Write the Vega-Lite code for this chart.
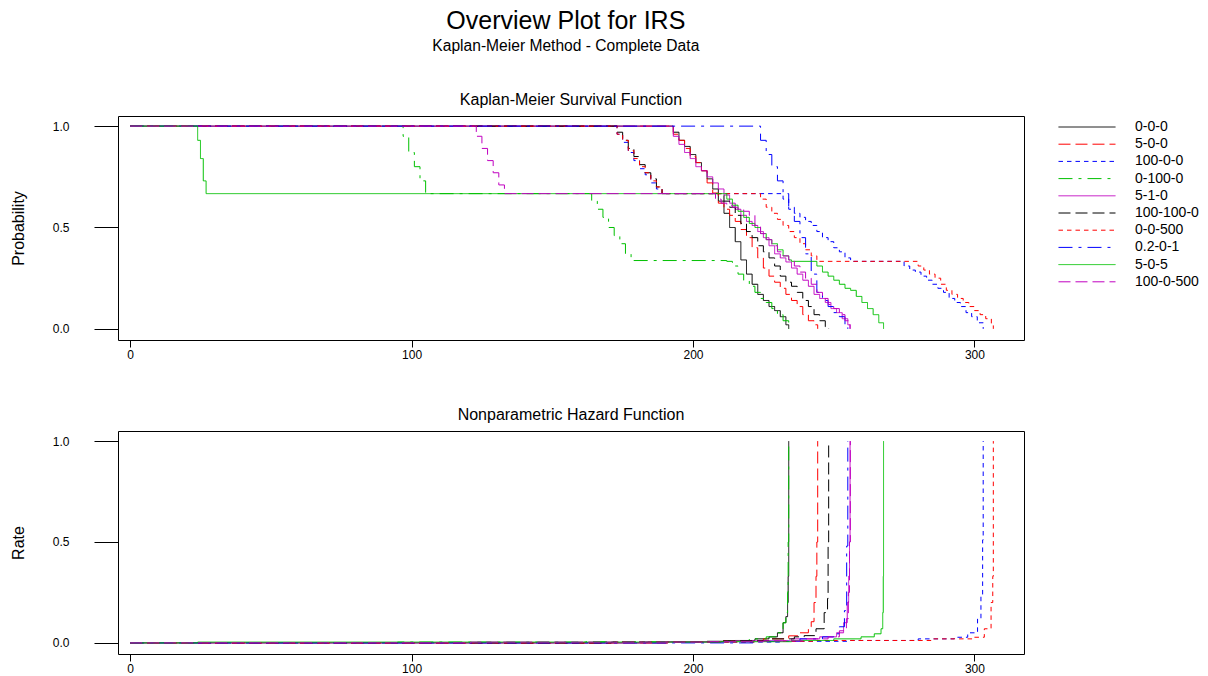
{
  "$schema": "https://vega.github.io/schema/vega-lite/v6.json",
  "background": "white",
  "padding": {"left": 9, "top": 8, "right": 0, "bottom": 0},
  "title": {
    "text": "Overview Plot for IRS",
    "subtitle": "Kaplan-Meier Method - Complete Data",
    "anchor": "start",
    "align": "center",
    "dx": 556,
    "fontSize": 25,
    "fontWeight": "normal",
    "subtitleFontSize": 15.6,
    "subtitlePadding": 5,
    "offset": 37,
    "color": "#000000",
    "subtitleColor": "#000000"
  },
  "datasets": {
    "km": [
      {"s":"0-0-0","t":0,"v":1},{"s":"0-0-0","t":191,"v":1},{"s":"0-0-0","t":193,"v":0.97},{"s":"0-0-0","t":195,"v":0.93},{"s":"0-0-0","t":197,"v":0.9},{"s":"0-0-0","t":199,"v":0.86},{"s":"0-0-0","t":201,"v":0.82},{"s":"0-0-0","t":203,"v":0.78},{"s":"0-0-0","t":205,"v":0.74},{"s":"0-0-0","t":207,"v":0.69},{"s":"0-0-0","t":209,"v":0.63},{"s":"0-0-0","t":211,"v":0.57},{"s":"0-0-0","t":213,"v":0.5},{"s":"0-0-0","t":215,"v":0.43},{"s":"0-0-0","t":217,"v":0.34},{"s":"0-0-0","t":219,"v":0.27},{"s":"0-0-0","t":221,"v":0.22},{"s":"0-0-0","t":223,"v":0.17},{"s":"0-0-0","t":225,"v":0.14},{"s":"0-0-0","t":227,"v":0.11},{"s":"0-0-0","t":229,"v":0.09},{"s":"0-0-0","t":231,"v":0.06},{"s":"0-0-0","t":233,"v":0.02},{"s":"0-0-0","t":234,"v":0},
      {"s":"5-0-0","t":0,"v":1},{"s":"5-0-0","t":191,"v":1},{"s":"5-0-0","t":193,"v":0.96},{"s":"5-0-0","t":195,"v":0.93},{"s":"5-0-0","t":197,"v":0.89},{"s":"5-0-0","t":199,"v":0.85},{"s":"5-0-0","t":201,"v":0.82},{"s":"5-0-0","t":203,"v":0.78},{"s":"5-0-0","t":205,"v":0.72},{"s":"5-0-0","t":207,"v":0.67},{"s":"5-0-0","t":209,"v":0.62},{"s":"5-0-0","t":211,"v":0.59},{"s":"5-0-0","t":213,"v":0.56},{"s":"5-0-0","t":215,"v":0.53},{"s":"5-0-0","t":217,"v":0.49},{"s":"5-0-0","t":219,"v":0.45},{"s":"5-0-0","t":221,"v":0.4},{"s":"5-0-0","t":223,"v":0.35},{"s":"5-0-0","t":225,"v":0.3},{"s":"5-0-0","t":227,"v":0.26},{"s":"5-0-0","t":229,"v":0.23},{"s":"5-0-0","t":231,"v":0.2},{"s":"5-0-0","t":233,"v":0.17},{"s":"5-0-0","t":235,"v":0.14},{"s":"5-0-0","t":237,"v":0.11},{"s":"5-0-0","t":239,"v":0.07},{"s":"5-0-0","t":241,"v":0.04},{"s":"5-0-0","t":243,"v":0.02},{"s":"5-0-0","t":244.3,"v":0},
      {"s":"100-0-0","t":0,"v":1},{"s":"100-0-0","t":171,"v":1},{"s":"100-0-0","t":173,"v":0.96},{"s":"100-0-0","t":175,"v":0.92},{"s":"100-0-0","t":177,"v":0.87},{"s":"100-0-0","t":179,"v":0.83},{"s":"100-0-0","t":181,"v":0.79},{"s":"100-0-0","t":183,"v":0.76},{"s":"100-0-0","t":185,"v":0.72},{"s":"100-0-0","t":187,"v":0.69},{"s":"100-0-0","t":189,"v":0.667},{"s":"100-0-0","t":232,"v":0.64},{"s":"100-0-0","t":234,"v":0.59},{"s":"100-0-0","t":236,"v":0.57},{"s":"100-0-0","t":238,"v":0.55},{"s":"100-0-0","t":240,"v":0.53},{"s":"100-0-0","t":242,"v":0.51},{"s":"100-0-0","t":244,"v":0.48},{"s":"100-0-0","t":246,"v":0.45},{"s":"100-0-0","t":248,"v":0.43},{"s":"100-0-0","t":250,"v":0.4},{"s":"100-0-0","t":252,"v":0.38},{"s":"100-0-0","t":254,"v":0.35},{"s":"100-0-0","t":256,"v":0.333},{"s":"100-0-0","t":275,"v":0.31},{"s":"100-0-0","t":277,"v":0.29},{"s":"100-0-0","t":279,"v":0.28},{"s":"100-0-0","t":281,"v":0.26},{"s":"100-0-0","t":283,"v":0.24},{"s":"100-0-0","t":285,"v":0.22},{"s":"100-0-0","t":287,"v":0.2},{"s":"100-0-0","t":289,"v":0.18},{"s":"100-0-0","t":291,"v":0.15},{"s":"100-0-0","t":293,"v":0.13},{"s":"100-0-0","t":295,"v":0.11},{"s":"100-0-0","t":297,"v":0.08},{"s":"100-0-0","t":299,"v":0.06},{"s":"100-0-0","t":301,"v":0.03},{"s":"100-0-0","t":303.1,"v":0},
      {"s":"0-100-0","t":0,"v":1},{"s":"0-100-0","t":95,"v":1},{"s":"0-100-0","t":97,"v":0.95},{"s":"0-100-0","t":99,"v":0.87},{"s":"0-100-0","t":101,"v":0.8},{"s":"0-100-0","t":103,"v":0.73},{"s":"0-100-0","t":105,"v":0.667},{"s":"0-100-0","t":162,"v":0.667},{"s":"0-100-0","t":164,"v":0.63},{"s":"0-100-0","t":166,"v":0.59},{"s":"0-100-0","t":168,"v":0.55},{"s":"0-100-0","t":170,"v":0.5},{"s":"0-100-0","t":172,"v":0.46},{"s":"0-100-0","t":174,"v":0.42},{"s":"0-100-0","t":176,"v":0.37},{"s":"0-100-0","t":178,"v":0.337},{"s":"0-100-0","t":212,"v":0.333},{"s":"0-100-0","t":214,"v":0.31},{"s":"0-100-0","t":216,"v":0.27},{"s":"0-100-0","t":218,"v":0.24},{"s":"0-100-0","t":220,"v":0.21},{"s":"0-100-0","t":222,"v":0.18},{"s":"0-100-0","t":224,"v":0.15},{"s":"0-100-0","t":226,"v":0.13},{"s":"0-100-0","t":228,"v":0.1},{"s":"0-100-0","t":230,"v":0.07},{"s":"0-100-0","t":232,"v":0.04},{"s":"0-100-0","t":234,"v":0},
      {"s":"5-1-0","t":0,"v":1},{"s":"5-1-0","t":191,"v":1},{"s":"5-1-0","t":193,"v":0.95},{"s":"5-1-0","t":195,"v":0.91},{"s":"5-1-0","t":197,"v":0.87},{"s":"5-1-0","t":199,"v":0.84},{"s":"5-1-0","t":201,"v":0.8},{"s":"5-1-0","t":203,"v":0.78},{"s":"5-1-0","t":205,"v":0.75},{"s":"5-1-0","t":207,"v":0.72},{"s":"5-1-0","t":209,"v":0.69},{"s":"5-1-0","t":211,"v":0.66},{"s":"5-1-0","t":213,"v":0.62},{"s":"5-1-0","t":215,"v":0.59},{"s":"5-1-0","t":217,"v":0.56},{"s":"5-1-0","t":219,"v":0.53},{"s":"5-1-0","t":221,"v":0.51},{"s":"5-1-0","t":223,"v":0.48},{"s":"5-1-0","t":225,"v":0.45},{"s":"5-1-0","t":227,"v":0.41},{"s":"5-1-0","t":229,"v":0.37},{"s":"5-1-0","t":231,"v":0.35},{"s":"5-1-0","t":233,"v":0.33},{"s":"5-1-0","t":235,"v":0.3},{"s":"5-1-0","t":237,"v":0.27},{"s":"5-1-0","t":239,"v":0.24},{"s":"5-1-0","t":241,"v":0.21},{"s":"5-1-0","t":243,"v":0.17},{"s":"5-1-0","t":245,"v":0.15},{"s":"5-1-0","t":247,"v":0.13},{"s":"5-1-0","t":249,"v":0.1},{"s":"5-1-0","t":251,"v":0.08},{"s":"5-1-0","t":253,"v":0.05},{"s":"5-1-0","t":255,"v":0.02},{"s":"5-1-0","t":255.8,"v":0},
      {"s":"100-100-0","t":0,"v":1},{"s":"100-100-0","t":171,"v":1},{"s":"100-100-0","t":173,"v":0.97},{"s":"100-100-0","t":175,"v":0.93},{"s":"100-100-0","t":177,"v":0.89},{"s":"100-100-0","t":179,"v":0.85},{"s":"100-100-0","t":181,"v":0.81},{"s":"100-100-0","t":183,"v":0.77},{"s":"100-100-0","t":185,"v":0.74},{"s":"100-100-0","t":187,"v":0.7},{"s":"100-100-0","t":189,"v":0.667},{"s":"100-100-0","t":209,"v":0.667},{"s":"100-100-0","t":211,"v":0.63},{"s":"100-100-0","t":213,"v":0.6},{"s":"100-100-0","t":215,"v":0.56},{"s":"100-100-0","t":217,"v":0.52},{"s":"100-100-0","t":219,"v":0.48},{"s":"100-100-0","t":221,"v":0.45},{"s":"100-100-0","t":223,"v":0.41},{"s":"100-100-0","t":225,"v":0.38},{"s":"100-100-0","t":227,"v":0.35},{"s":"100-100-0","t":229,"v":0.31},{"s":"100-100-0","t":231,"v":0.26},{"s":"100-100-0","t":233,"v":0.23},{"s":"100-100-0","t":235,"v":0.21},{"s":"100-100-0","t":237,"v":0.18},{"s":"100-100-0","t":239,"v":0.14},{"s":"100-100-0","t":241,"v":0.11},{"s":"100-100-0","t":243,"v":0.07},{"s":"100-100-0","t":245,"v":0.04},{"s":"100-100-0","t":247,"v":0.01},{"s":"100-100-0","t":248.2,"v":0},
      {"s":"0-0-500","t":0,"v":1},{"s":"0-0-500","t":171,"v":1},{"s":"0-0-500","t":173,"v":0.96},{"s":"0-0-500","t":175,"v":0.93},{"s":"0-0-500","t":177,"v":0.88},{"s":"0-0-500","t":179,"v":0.84},{"s":"0-0-500","t":181,"v":0.8},{"s":"0-0-500","t":183,"v":0.77},{"s":"0-0-500","t":185,"v":0.73},{"s":"0-0-500","t":187,"v":0.7},{"s":"0-0-500","t":189,"v":0.667},{"s":"0-0-500","t":222,"v":0.667},{"s":"0-0-500","t":224,"v":0.64},{"s":"0-0-500","t":226,"v":0.6},{"s":"0-0-500","t":228,"v":0.57},{"s":"0-0-500","t":230,"v":0.54},{"s":"0-0-500","t":232,"v":0.51},{"s":"0-0-500","t":234,"v":0.48},{"s":"0-0-500","t":236,"v":0.45},{"s":"0-0-500","t":238,"v":0.42},{"s":"0-0-500","t":240,"v":0.39},{"s":"0-0-500","t":242,"v":0.36},{"s":"0-0-500","t":244,"v":0.333},{"s":"0-0-500","t":278,"v":0.333},{"s":"0-0-500","t":280,"v":0.31},{"s":"0-0-500","t":282,"v":0.29},{"s":"0-0-500","t":284,"v":0.27},{"s":"0-0-500","t":286,"v":0.25},{"s":"0-0-500","t":288,"v":0.22},{"s":"0-0-500","t":290,"v":0.19},{"s":"0-0-500","t":292,"v":0.17},{"s":"0-0-500","t":294,"v":0.15},{"s":"0-0-500","t":296,"v":0.13},{"s":"0-0-500","t":298,"v":0.11},{"s":"0-0-500","t":300,"v":0.09},{"s":"0-0-500","t":302,"v":0.07},{"s":"0-0-500","t":304,"v":0.05},{"s":"0-0-500","t":306,"v":0.02},{"s":"0-0-500","t":306.7,"v":0},
      {"s":"0.2-0-1","t":0,"v":1},{"s":"0.2-0-1","t":222,"v":1},{"s":"0.2-0-1","t":224,"v":0.93},{"s":"0.2-0-1","t":226,"v":0.86},{"s":"0.2-0-1","t":228,"v":0.8},{"s":"0.2-0-1","t":230,"v":0.73},{"s":"0.2-0-1","t":232,"v":0.667},{"s":"0.2-0-1","t":234,"v":0.6},{"s":"0.2-0-1","t":236,"v":0.53},{"s":"0.2-0-1","t":238,"v":0.45},{"s":"0.2-0-1","t":240,"v":0.37},{"s":"0.2-0-1","t":242,"v":0.27},{"s":"0.2-0-1","t":244,"v":0.18},{"s":"0.2-0-1","t":246,"v":0.14},{"s":"0.2-0-1","t":248,"v":0.11},{"s":"0.2-0-1","t":250,"v":0.08},{"s":"0.2-0-1","t":252,"v":0.06},{"s":"0.2-0-1","t":254,"v":0.02},{"s":"0.2-0-1","t":255,"v":0},
      {"s":"5-0-5","t":0,"v":1},{"s":"5-0-5","t":24,"v":0.93},{"s":"5-0-5","t":25,"v":0.84},{"s":"5-0-5","t":26,"v":0.73},{"s":"5-0-5","t":27,"v":0.667},{"s":"5-0-5","t":210,"v":0.667},{"s":"5-0-5","t":212,"v":0.64},{"s":"5-0-5","t":214,"v":0.61},{"s":"5-0-5","t":216,"v":0.58},{"s":"5-0-5","t":218,"v":0.55},{"s":"5-0-5","t":220,"v":0.52},{"s":"5-0-5","t":222,"v":0.5},{"s":"5-0-5","t":224,"v":0.47},{"s":"5-0-5","t":226,"v":0.44},{"s":"5-0-5","t":228,"v":0.42},{"s":"5-0-5","t":230,"v":0.39},{"s":"5-0-5","t":232,"v":0.36},{"s":"5-0-5","t":234,"v":0.34},{"s":"5-0-5","t":235,"v":0.333},{"s":"5-0-5","t":242,"v":0.333},{"s":"5-0-5","t":244,"v":0.31},{"s":"5-0-5","t":246,"v":0.28},{"s":"5-0-5","t":248,"v":0.26},{"s":"5-0-5","t":250,"v":0.24},{"s":"5-0-5","t":252,"v":0.22},{"s":"5-0-5","t":254,"v":0.2},{"s":"5-0-5","t":256,"v":0.19},{"s":"5-0-5","t":258,"v":0.16},{"s":"5-0-5","t":260,"v":0.13},{"s":"5-0-5","t":262,"v":0.1},{"s":"5-0-5","t":264,"v":0.07},{"s":"5-0-5","t":266,"v":0.03},{"s":"5-0-5","t":267.7,"v":0},
      {"s":"100-0-500","t":0,"v":1},{"s":"100-0-500","t":121,"v":1},{"s":"100-0-500","t":123,"v":0.95},{"s":"100-0-500","t":125,"v":0.89},{"s":"100-0-500","t":127,"v":0.83},{"s":"100-0-500","t":129,"v":0.77},{"s":"100-0-500","t":131,"v":0.71},{"s":"100-0-500","t":133,"v":0.667},{"s":"100-0-500","t":206,"v":0.667},{"s":"100-0-500","t":208,"v":0.64},{"s":"100-0-500","t":210,"v":0.62},{"s":"100-0-500","t":212,"v":0.61},{"s":"100-0-500","t":214,"v":0.6},{"s":"100-0-500","t":216,"v":0.59},{"s":"100-0-500","t":218,"v":0.58},{"s":"100-0-500","t":220,"v":0.56},{"s":"100-0-500","t":222,"v":0.51},{"s":"100-0-500","t":224,"v":0.47},{"s":"100-0-500","t":226,"v":0.44},{"s":"100-0-500","t":228,"v":0.41},{"s":"100-0-500","t":230,"v":0.38},{"s":"100-0-500","t":232,"v":0.36},{"s":"100-0-500","t":234,"v":0.34},{"s":"100-0-500","t":236,"v":0.31},{"s":"100-0-500","t":238,"v":0.28},{"s":"100-0-500","t":240,"v":0.25},{"s":"100-0-500","t":242,"v":0.22},{"s":"100-0-500","t":244,"v":0.18},{"s":"100-0-500","t":246,"v":0.15},{"s":"100-0-500","t":248,"v":0.12},{"s":"100-0-500","t":250,"v":0.1},{"s":"100-0-500","t":252,"v":0.07},{"s":"100-0-500","t":254,"v":0.04},{"s":"100-0-500","t":255.8,"v":0}
    ],
    "hz": [
      {"s":"0-0-0","t":0,"v":0},{"s":"0-0-0","t":191,"v":0.005},{"s":"0-0-0","t":205,"v":0.008},{"s":"0-0-0","t":215,"v":0.012},{"s":"0-0-0","t":222,"v":0.02},{"s":"0-0-0","t":227,"v":0.03},{"s":"0-0-0","t":230,"v":0.05},{"s":"0-0-0","t":232,"v":0.1},{"s":"0-0-0","t":233,"v":0.13},{"s":"0-0-0","t":233.6,"v":0.2},{"s":"0-0-0","t":233.8,"v":0.33},{"s":"0-0-0","t":234,"v":1},
      {"s":"5-0-0","t":0,"v":0},{"s":"5-0-0","t":191,"v":0.004},{"s":"5-0-0","t":210,"v":0.01},{"s":"5-0-0","t":225,"v":0.02},{"s":"5-0-0","t":234,"v":0.035},{"s":"5-0-0","t":238,"v":0.05},{"s":"5-0-0","t":241,"v":0.08},{"s":"5-0-0","t":242,"v":0.105},{"s":"5-0-0","t":243,"v":0.2},{"s":"5-0-0","t":243.7,"v":0.33},{"s":"5-0-0","t":244,"v":0.5},{"s":"5-0-0","t":244.3,"v":1},
      {"s":"100-0-0","t":0,"v":0},{"s":"100-0-0","t":171,"v":0.004},{"s":"100-0-0","t":232,"v":0.008},{"s":"100-0-0","t":256,"v":0.012},{"s":"100-0-0","t":280,"v":0.02},{"s":"100-0-0","t":292.8,"v":0.028},{"s":"100-0-0","t":297.6,"v":0.05},{"s":"100-0-0","t":301.1,"v":0.12},{"s":"100-0-0","t":302.3,"v":0.23},{"s":"100-0-0","t":302.9,"v":0.51},{"s":"100-0-0","t":303.1,"v":1},
      {"s":"0-100-0","t":0,"v":0},{"s":"0-100-0","t":95,"v":0.004},{"s":"0-100-0","t":162,"v":0.006},{"s":"0-100-0","t":212,"v":0.01},{"s":"0-100-0","t":220,"v":0.02},{"s":"0-100-0","t":226,"v":0.03},{"s":"0-100-0","t":230,"v":0.05},{"s":"0-100-0","t":232,"v":0.1},{"s":"0-100-0","t":233,"v":0.15},{"s":"0-100-0","t":233.6,"v":0.25},{"s":"0-100-0","t":233.8,"v":0.5},{"s":"0-100-0","t":234,"v":1},
      {"s":"5-1-0","t":0,"v":0},{"s":"5-1-0","t":191,"v":0.005},{"s":"5-1-0","t":215,"v":0.01},{"s":"5-1-0","t":235,"v":0.02},{"s":"5-1-0","t":245,"v":0.03},{"s":"5-1-0","t":251,"v":0.05},{"s":"5-1-0","t":253.5,"v":0.1},{"s":"5-1-0","t":254.8,"v":0.2},{"s":"5-1-0","t":255.3,"v":0.33},{"s":"5-1-0","t":255.6,"v":0.5},{"s":"5-1-0","t":255.8,"v":1},
      {"s":"100-100-0","t":0,"v":0},{"s":"100-100-0","t":171,"v":0.004},{"s":"100-100-0","t":209,"v":0.01},{"s":"100-100-0","t":228,"v":0.02},{"s":"100-100-0","t":236,"v":0.03},{"s":"100-100-0","t":239.5,"v":0.036},{"s":"100-100-0","t":243.7,"v":0.07},{"s":"100-100-0","t":246.6,"v":0.15},{"s":"100-100-0","t":247.8,"v":0.22},{"s":"100-100-0","t":248,"v":0.5},{"s":"100-100-0","t":248.2,"v":1},
      {"s":"0-0-500","t":0,"v":0},{"s":"0-0-500","t":171,"v":0.004},{"s":"0-0-500","t":222,"v":0.008},{"s":"0-0-500","t":244,"v":0.012},{"s":"0-0-500","t":285,"v":0.02},{"s":"0-0-500","t":299.9,"v":0.028},{"s":"0-0-500","t":303.5,"v":0.07},{"s":"0-0-500","t":305.9,"v":0.2},{"s":"0-0-500","t":306.5,"v":0.33},{"s":"0-0-500","t":306.7,"v":1},
      {"s":"0.2-0-1","t":0,"v":0},{"s":"0.2-0-1","t":222,"v":0.008},{"s":"0.2-0-1","t":238,"v":0.02},{"s":"0.2-0-1","t":246,"v":0.03},{"s":"0.2-0-1","t":250,"v":0.045},{"s":"0.2-0-1","t":252,"v":0.08},{"s":"0.2-0-1","t":253.8,"v":0.16},{"s":"0.2-0-1","t":254.6,"v":0.48},{"s":"0.2-0-1","t":255,"v":1},
      {"s":"5-0-5","t":0,"v":0},{"s":"5-0-5","t":24,"v":0.004},{"s":"5-0-5","t":210,"v":0.006},{"s":"5-0-5","t":235,"v":0.012},{"s":"5-0-5","t":250,"v":0.02},{"s":"5-0-5","t":259.7,"v":0.03},{"s":"5-0-5","t":264.4,"v":0.045},{"s":"5-0-5","t":266.8,"v":0.07},{"s":"5-0-5","t":267.4,"v":0.15},{"s":"5-0-5","t":267.6,"v":0.33},{"s":"5-0-5","t":267.7,"v":1},
      {"s":"100-0-500","t":0,"v":0},{"s":"100-0-500","t":121,"v":0.004},{"s":"100-0-500","t":206,"v":0.006},{"s":"100-0-500","t":225,"v":0.01},{"s":"100-0-500","t":240,"v":0.02},{"s":"100-0-500","t":248,"v":0.03},{"s":"100-0-500","t":252,"v":0.06},{"s":"100-0-500","t":254.5,"v":0.12},{"s":"100-0-500","t":255.2,"v":0.25},{"s":"100-0-500","t":255.6,"v":0.5},{"s":"100-0-500","t":255.9,"v":1}
    ]
  },
  "vconcat": [
    {
      "title": {"text": "Kaplan-Meier Survival Function"},
      "width": 906,
      "height": 224,
      "data": {"name": "km"},
      "mark": {"type": "line", "interpolate": "step-after", "strokeWidth": 1},
      "encoding": {
        "x": {"field": "t", "type": "quantitative", "scale": {"domain": [-4.3, 317.6], "nice": false, "zero": false}, "axis": {"values": [0, 100, 200, 300], "title": null}},
        "y": {"field": "v", "type": "quantitative", "scale": {"domain": [-0.055, 1.05], "nice": false}, "axis": {"values": [0, 0.5, 1], "format": ".1f", "title": "Probability"}},
        "color": {"field": "s", "type": "nominal",
          "scale": {"domain": ["0-0-0","5-0-0","100-0-0","0-100-0","5-1-0","100-100-0","0-0-500","0.2-0-1","5-0-5","100-0-500"],
                    "range": ["#000000","#FF0000","#0000FF","#00C000","#C000C0","#000000","#FF0000","#0000FF","#00C000","#C000C0"]},
          "legend": {"orient": "none", "legendX": 962, "legendY": 4}},
        "strokeDash": {"field": "s", "type": "nominal",
          "scale": {"domain": ["0-0-0","5-0-0","100-0-0","0-100-0","5-1-0","100-100-0","0-0-500","0.2-0-1","5-0-5","100-0-500"],
                    "range": [[1,0],[12,5],[4.5,4],[14,6,3,6],[1,0],[12,5],[4.5,4],[14,6,3,6],[1,0],[12,5]]},
          "legend": {"orient": "none", "legendX": 962, "legendY": 4}}
      }
    },
    {
      "title": {"text": "Nonparametric Hazard Function"},
      "width": 906,
      "height": 223,
      "data": {"name": "hz"},
      "mark": {"type": "line", "interpolate": "step-after", "strokeWidth": 1},
      "encoding": {
        "x": {"field": "t", "type": "quantitative", "scale": {"domain": [-4.3, 317.6], "nice": false, "zero": false}, "axis": {"values": [0, 100, 200, 300], "title": null}},
        "y": {"field": "v", "type": "quantitative", "scale": {"domain": [-0.055, 1.05], "nice": false}, "axis": {"values": [0, 0.5, 1], "format": ".1f", "title": "Rate"}},
        "color": {"field": "s", "type": "nominal",
          "scale": {"domain": ["0-0-0","5-0-0","100-0-0","0-100-0","5-1-0","100-100-0","0-0-500","0.2-0-1","5-0-5","100-0-500"],
                    "range": ["#000000","#FF0000","#0000FF","#00C000","#C000C0","#000000","#FF0000","#0000FF","#00C000","#C000C0"]},
          "legend": null},
        "strokeDash": {"field": "s", "type": "nominal",
          "scale": {"domain": ["0-0-0","5-0-0","100-0-0","0-100-0","5-1-0","100-100-0","0-0-500","0.2-0-1","5-0-5","100-0-500"],
                    "range": [[1,0],[12,5],[4.5,4],[14,6,3,6],[1,0],[12,5],[4.5,4],[14,6,3,6],[1,0],[12,5]]},
          "legend": null}
      }
    }
  ],
  "resolve": {"legend": {"color": "independent", "strokeDash": "independent"}},
  "spacing": 45,
  "config": {
    "font": "Liberation Sans",
    "view": {"stroke": "#000000", "strokeWidth": 1},
    "title": {"fontSize": 16, "fontWeight": "normal", "color": "#000000", "offset": 8},
    "axis": {"grid": false, "domain": false, "tickColor": "#000000", "labelColor": "#000000", "labelFontSize": 12, "titleFontSize": 16, "titleFontWeight": "normal", "titleColor": "#000000"},
    "axisX": {"tickSize": 7, "labelPadding": 2},
    "axisY": {"tickSize": 24, "labelPadding": 25, "titlePadding": 26},
    "legend": {"title": null, "symbolType": "M-5,0H5", "symbolSize": 130, "symbolStrokeWidth": 1, "labelFontSize": 14, "labelOffset": 41, "rowPadding": 3.2, "labelColor": "#000000"}
  }
}
